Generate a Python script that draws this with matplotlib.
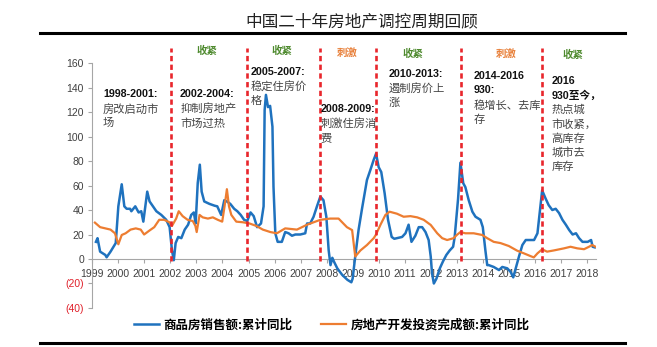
import matplotlib
matplotlib.use("Agg")
import matplotlib.pyplot as plt
from matplotlib.lines import Line2D
from matplotlib.ticker import FuncFormatter

plt.rcParams['font.family'] = ['Noto Sans CJK SC', 'DejaVu Sans']

# 商品房销售额:累计同比 (%)
sales_t = [1999.14, 1999.2, 1999.3, 1999.4, 1999.5, 1999.55, 1999.7, 1999.9,
           2000.0, 2000.13, 2000.23, 2000.32, 2000.45, 2000.5, 2000.65, 2000.78, 2000.88, 2000.96,
           2001.11, 2001.2, 2001.33, 2001.46, 2001.65, 2001.84, 2001.97,
           2002.06, 2002.13, 2002.2, 2002.3, 2002.42, 2002.55, 2002.68, 2002.8, 2002.9, 2002.97,
           2003.05, 2003.13, 2003.2, 2003.3, 2003.5, 2003.7, 2003.8, 2003.95,
           2004.07, 2004.17, 2004.3, 2004.45, 2004.57, 2004.7, 2004.83, 2004.95,
           2005.08, 2005.2, 2005.33, 2005.48, 2005.58, 2005.62, 2005.67, 2005.75, 2005.83, 2005.92,
           2005.96, 2006.03, 2006.12, 2006.28, 2006.41, 2006.54, 2006.67, 2006.8, 2006.99,
           2007.18, 2007.25, 2007.37, 2007.5, 2007.63, 2007.76, 2007.88, 2007.99,
           2008.08, 2008.15, 2008.22, 2008.28, 2008.41, 2008.6, 2008.8, 2008.95,
           2009.0, 2009.1, 2009.23, 2009.36, 2009.55, 2009.68, 2009.81, 2009.9,
           2010.0, 2010.1, 2010.23, 2010.36, 2010.5, 2010.6, 2010.9,
           2011.03, 2011.15, 2011.26, 2011.41, 2011.54, 2011.67, 2011.8, 2011.92,
           2012.0, 2012.05, 2012.12, 2012.22, 2012.35, 2012.47, 2012.6, 2012.73, 2012.86, 2012.92, 2012.99,
           2013.05, 2013.14, 2013.25, 2013.33, 2013.46, 2013.6, 2013.72, 2013.91,
           2014.0, 2014.1, 2014.17, 2014.23, 2014.42, 2014.62, 2014.75, 2014.94,
           2015.07, 2015.17, 2015.26, 2015.39, 2015.52, 2015.65, 2015.84, 2015.97,
           2016.1, 2016.2, 2016.28, 2016.41, 2016.53, 2016.67, 2016.8, 2016.93,
           2017.06, 2017.19, 2017.32, 2017.45, 2017.58, 2017.7, 2017.83,
           2018.03, 2018.16, 2018.22, 2018.3]
sales_v = [14, 17, 6, 4.6, 3.3, 1.4, 6, 13,
           43, 61, 43, 41, 41, 39, 43, 38, 39, 30.5,
           55, 47, 43, 39, 36, 32, 26,
           7, -1, 13, 18, 17, 24, 28, 36, 38, 29,
           62, 77, 55, 47, 45, 43.5, 43, 36,
           48, 47, 45, 41, 39, 36, 32, 31,
           38, 35, 26, 29, 43, 121.6, 134, 124, 125, 108,
           59, 21, 14, 14, 22, 21, 19, 20, 20,
           21, 29, 29, 34.5, 43, 51, 48, 34.5,
           7, -5, 1, -2, -7.6, -13, -17, -19,
           -16, 2, 24, 41, 64.5, 72.6, 81, 86,
           75, 71, 53.6, 32, 18, 16.5, 18,
           21, 28, 14, 19, 26, 26, 22, 15.5,
           2, -11.7, -20, -16, -7.6, -2, 3.3, 7, 10, 18, 34.5,
           49, 78.6, 61.8, 58.7, 48, 38.6, 34.5, 32,
           26, 7, -5, -5, -6.5, -9, -6.5, -7.6,
           -10.6, -15, -8, 2, 11.4, 15.5, 15.5, 15.5,
           21, 40, 56, 49.5, 44, 40, 41, 37.5,
           32, 28, 23.6, 20, 21, 17, 14,
           14, 15.5, 10, 9.5]

# 房地产开发投资完成额:累计同比 (%)
invest_t = [1999.1, 1999.3, 1999.5, 1999.7, 1999.87, 2000.0, 2000.13, 2000.28, 2000.47, 2000.67,
            2000.86, 2000.99, 2001.18, 2001.38, 2001.57, 2001.76, 2001.96,
            2002.06, 2002.22, 2002.32, 2002.47, 2002.66, 2002.86, 2002.96,
            2003.01, 2003.12, 2003.24, 2003.44, 2003.63, 2003.82, 2003.99,
            2004.08, 2004.17, 2004.25, 2004.34, 2004.53, 2004.78,
            2005.04, 2005.3, 2005.55, 2005.84, 2006.09, 2006.41, 2006.86,
            2007.25, 2007.76, 2008.14, 2008.46, 2008.78, 2008.98,
            2009.1, 2009.3, 2009.55, 2009.81, 2009.9, 2010.07, 2010.26, 2010.42, 2010.7, 2010.96,
            2011.22, 2011.48, 2011.73, 2012.0, 2012.25, 2012.44, 2012.63, 2012.88,
            2013.0, 2013.14, 2013.33, 2013.65, 2013.98, 2014.17, 2014.42, 2014.68,
            2015.0, 2015.32, 2015.58, 2015.83, 2015.96, 2016.1, 2016.28, 2016.47, 2016.73,
            2017.12, 2017.37, 2017.63, 2017.89, 2018.08, 2018.2, 2018.33]
invest_v = [29.7, 26, 25, 24, 21, 12, 19.6, 21, 24, 25,
            24, 20, 23, 26, 32, 32, 30,
            27, 33, 39, 35, 32, 31, 27,
            22, 36, 34, 33, 34, 32, 30.5,
            43, 57, 43, 36, 30.5, 30,
            29, 27, 24, 22, 21, 25, 24,
            28, 32, 33, 33, 26, 23.6,
            2, 7, 11.4, 17, 20, 28, 36, 38.6, 37, 34.5,
            35, 34, 32, 27.8, 21, 17, 15.5, 17,
            19.6, 22, 21, 21, 19.6, 17, 14, 13,
            10.6, 6.8, 4.6, 2.4, 1.3, 4.6, 7.9, 6, 7,
            8.7, 10, 8.7, 8, 10, 11.4, 10]

years = list(range(1999, 2019))
y_ticks = [-40, -20, 0, 20, 40, 60, 80, 100, 120, 140, 160]

# 调控政策转折点
policy_breaks = [2002.03, 2004.94, 2007.73, 2009.9, 2013.18, 2016.28]

stance_text = ['收紧', '收紧', '刺激', '收紧', '刺激', '收紧']
stance_x = [2003.42, 2006.30, 2008.80, 2011.30, 2014.91, 2017.45]
stance_y = [169.8, 169.8, 168.0, 167.3, 167.3, 166.5]

note_head = ['1998-2001:', '2002-2004:', '2005-2007:', '2008-2009:', '2010-2013:',
             '2014-2016\n930:', '2016\n930至今，']
note_body = ['房改启动市\n场', '抑制房地产\n市场过热', '稳定住房价\n格', '刺激住房消\n费',
             '遏制房价上\n涨', '稳增长、去库\n存', '热点城\n市收紧，\n高库存\n城市去\n库存']
note_x = [1999.41, 2002.37, 2005.10, 2007.76, 2010.37, 2013.64, 2016.64]
note_y = [138.8, 138.8, 156.7, 126.5, 155.1, 153.5, 149.4]

BLUE = '#1F72BE'
ORANGE = '#ED7D31'
RED = '#E8262C'
GREEN = '#4E8A2E'
STANCE_COLOR = {'收紧': GREEN, '刺激': '#E8803A'}

fig = plt.figure(figsize=(6.57, 3.47), dpi=100)
ax = fig.add_axes([0.1405, 0.1124, 0.7667, 0.706])

ax.plot(sales_t, sales_v, color=BLUE, lw=1.8, label='商品房销售额:累计同比', zorder=3)
ax.plot(invest_t, invest_v, color=ORANGE, lw=1.6, label='房地产开发投资完成额:累计同比', zorder=4)

for xb in policy_breaks:
    ax.plot([xb, xb], [-2, 172], color=RED, lw=1.9, linestyle=(0, (2.0, 1.3)),
            clip_on=False, zorder=5)

ax.set_xlim(1999, 2018.35)
ax.set_ylim(-40, 160)
ax.set_xticks(years)
ax.set_yticks(y_ticks)

def fmt_y(v, pos):
    return f'({abs(int(v))})' if v < 0 else f'{int(v)}'

ax.yaxis.set_major_formatter(FuncFormatter(fmt_y))

for sp in ['top', 'right']:
    ax.spines[sp].set_visible(False)
ax.spines['bottom'].set_position(('data', 0))
ax.spines['bottom'].set_color('#A6A6A6')
ax.spines['left'].set_color('#A6A6A6')
ax.tick_params(axis='both', direction='out', length=3, width=0.8, color='#A6A6A6',
               labelsize=7.5, labelcolor='#404040')
ax.tick_params(axis='x', pad=4)
ax.tick_params(axis='y', pad=3)
for lab in ax.get_xticklabels() + ax.get_yticklabels():
    lab.set_family(['Liberation Sans', 'DejaVu Sans'])
for lab, v in zip(ax.get_yticklabels(), y_ticks):
    if v < 0:
        lab.set_color('#E0202A')

for txt, x, y in zip(stance_text, stance_x, stance_y):
    ax.text(x, y, txt, ha='center', va='center', fontsize=7.5, fontweight='bold',
            color=STANCE_COLOR[txt], clip_on=False)

for head, body, x, y in zip(note_head, note_body, note_x, note_y):
    ax.text(x, y, head, ha='left', va='top', fontsize=7.7, fontweight='bold',
            family=['Liberation Sans', 'Noto Sans CJK SC'], color='#111111',
            linespacing=1.5, clip_on=False, zorder=6)
    n = head.count('\n') + 1
    ax.annotate(body, xy=(x, y), xytext=(0, -10.4 * n), textcoords='offset points',
                ha='left', va='top', fontsize=8.1, color='#444444', linespacing=1.42,
                annotation_clip=False, zorder=6)

ax.legend(loc='center', bbox_to_anchor=(0.505, 0.064), bbox_transform=fig.transFigure,
          ncol=2, frameon=False, handlelength=2.0, handletextpad=0.35, columnspacing=2.3,
          prop={'weight': 'bold', 'size': 9})

fig.text(0.55, 1 - 22 / 347, '中国二十年房地产调控周期回顾', ha='center', va='center',
         fontsize=12, color='#222222')
fig.add_artist(Line2D([40 / 657, 625 / 657], [1 - 33 / 347] * 2, lw=2.2, color='black'))
fig.add_artist(Line2D([40 / 657, 625 / 657], [1 - 343 / 347] * 2, lw=2.2, color='black'))

fig.savefig('out.png', dpi=100)
